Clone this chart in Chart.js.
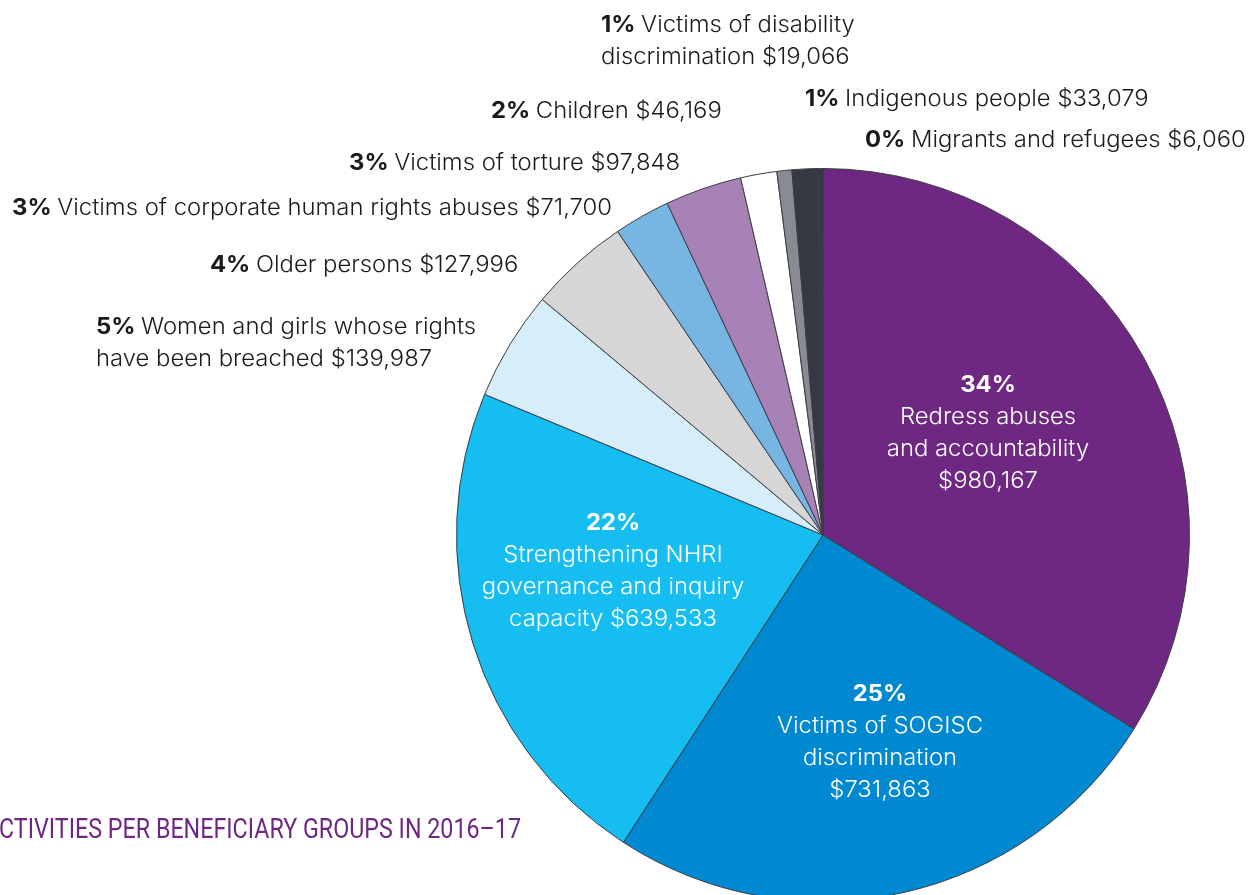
<!DOCTYPE html>
<html><head><meta charset="utf-8">
<script src="https://cdn.jsdelivr.net/npm/chart.js@4/dist/chart.umd.min.js"></script>
<style>
html,body{margin:0;padding:0;background:#fff;overflow:hidden;width:1256px;height:895px}
#wrap{position:absolute;left:0;top:0;width:1256px;height:940px}
</style></head>
<body><div id="wrap"><canvas id="c" width="1256" height="940"></canvas></div>
<script>
// ---- data ----
const categories = ["Redress abuses and accountability","Victims of SOGISC discrimination","Strengthening NHRI governance and inquiry capacity","Women and girls whose rights have been breached","Older persons","Victims of corporate human rights abuses","Victims of torture","Children","Victims of disability discrimination","Indigenous people","Migrants and refugees"];
const amounts = [980167,731863,639533,139987,127996,71700,97848,46169,19066,33079,6060];
const percentLabels = ["34%","25%","22%","5%","4%","3%","3%","2%","1%","1%","0%"];
const amountLabels = ["$980,167","$731,863","$639,533","$139,987","$127,996","$71,700","$97,848","$46,169","$19,066","$33,079","$6,060"];
const sliceColors = ["#6e2882","#0088d1","#15bdf0","#d6eefa","#d6d6d6","#77b5e3","#a882b6","#ffffff","#888b92","#363843","#363843"];
const titleVisible = "CTIVITIES PER BENEFICIARY GROUPS IN 2016–17";
const titleText = "ACTIVITIES PER BENEFICIARY GROUPS IN 2016–17";

// ---- label layout (text lines per slice) ----
const labelLines = [
  ["Redress abuses","and accountability",amountLabels[0]],
  ["Victims of SOGISC","discrimination",amountLabels[1]],
  ["Strengthening NHRI","governance and inquiry","capacity "+amountLabels[2]],
  ["Women and girls whose rights","have been breached "+amountLabels[3]],
  [categories[4]+" "+amountLabels[4]],
  [categories[5]+" "+amountLabels[5]],
  [categories[6]+" "+amountLabels[6]],
  [categories[7]+" "+amountLabels[7]],
  ["Victims of disability","discrimination "+amountLabels[8]],
  [categories[9]+" "+amountLabels[9]],
  [categories[10]+" "+amountLabels[10]]
];
const labelPos = [
  {x:988,y:392,inside:true},
  {x:880,y:701,inside:true},
  {x:613,y:530,inside:true},
  {x:96,y:334},
  {x:210,y:272},
  {x:12,y:215},
  {x:349,y:170},
  {x:491,y:118},
  {x:601,y:32},
  {x:805,y:106},
  {x:865,y:147}
];
const FS = 22.5, LH = 32;
const FAM = "Inter, 'Liberation Sans', sans-serif";
const normalFont = "300 "+FS+"px "+FAM;
const boldFont = "700 "+FS+"px "+FAM;
// reference width of the longest outside line, used to match the text width
const refWidth = 600;

const labelPlugin = {
  id:'labels',
  afterDraw(chart){
    const ctx = chart.ctx;
    ctx.save();
    // horizontal factor so the longest line matches the reference width
    ctx.font = boldFont;
    let wRef = ctx.measureText(percentLabels[5]+" ").width;
    ctx.font = normalFont;
    wRef += ctx.measureText(labelLines[5][0]).width;
    const hs = refWidth / wRef;
    const drawText = (t, x, y, align) => {
      ctx.save();
      ctx.translate(x, y);
      ctx.scale(hs, 1);
      ctx.textAlign = align;
      ctx.fillText(t, 0, 0);
      ctx.restore();
    };
    ctx.textBaseline = "alphabetic";
    for(let i=0;i<labelLines.length;i++){
      const p = labelPos[i];
      if(p.inside){
        ctx.fillStyle = "#ffffff";
        ctx.font = boldFont;
        drawText(percentLabels[i], p.x, p.y, "center");
        ctx.font = normalFont;
        labelLines[i].forEach((t,k)=>drawText(t, p.x, p.y+LH*(k+1), "center"));
      } else {
        ctx.fillStyle = "#1a1a1a";
        labelLines[i].forEach((t,k)=>{
          let x = p.x;
          const y = p.y + LH*k;
          if(k===0){
            ctx.font = boldFont;
            drawText(percentLabels[i], x, y, "left");
            x += ctx.measureText(percentLabels[i]+" ").width * hs;
          }
          ctx.font = normalFont;
          drawText(t, x, y, "left");
        });
      }
    }
    // title (condensed, partially cut at left edge)
    ctx.font = "400 28px Roboto, 'Liberation Sans', sans-serif";
    ctx.fillStyle = "#6e2882";
    const w = ctx.measureText(titleVisible).width;
    const sx = 522 / w;
    ctx.translate(521, 838);
    ctx.scale(sx, 1);
    ctx.textAlign = "right";
    ctx.fillText(titleText, 0, 0);
    ctx.restore();
  }
};

new Chart(document.getElementById('c'), {
  type:'pie',
  data:{
    labels: categories,
    datasets:[{
      data: amounts,
      backgroundColor: sliceColors,
      borderColor: "#3a3b44",
      borderWidth: 1
    }]
  },
  options:{
    responsive:false,
    animation:false,
    layout:{padding:{top:168,bottom:38,left:456,right:66}},
    plugins:{legend:{display:false},tooltip:{enabled:false}}
  },
  plugins:[labelPlugin]
});
</script>
</body></html>
